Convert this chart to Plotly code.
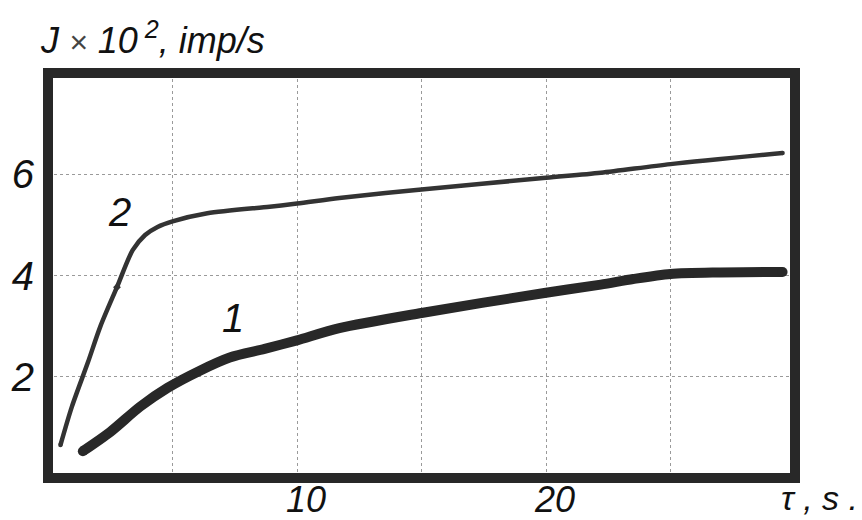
import plotly.graph_objects as go

# Curve 1 (thick)
t1 = [1.4, 2.5, 3.7, 4.8, 6.1, 7.3, 8.7, 10.0, 11.7, 15.0, 20.0, 22.2, 23.5, 25.0, 27.0, 29.5]
j1 = [0.53, 0.91, 1.41, 1.78, 2.12, 2.38, 2.55, 2.72, 2.96, 3.26, 3.66, 3.82, 3.93, 4.03, 4.06, 4.07]

# Curve 2 (thin)
t2 = [0.5, 0.96, 1.6, 2.1, 2.77, 3.4, 3.9, 4.4, 5.0, 6.4, 8.9, 10.0, 11.7, 15.0, 20.0, 22.2, 25.0, 29.5]
j2 = [0.65, 1.41, 2.28, 2.99, 3.77, 4.50, 4.80, 4.96, 5.07, 5.23, 5.36, 5.42, 5.53, 5.70, 5.93, 6.03, 6.20, 6.42]

# small mark on curve 2
mark_t = [2.77]
mark_j = [3.77]

x_grid = [5, 10, 15, 20, 25]
x_text = ["", "10", "", "20", ""]
y_grid = [2, 4, 6]
y_text = ["2", "4", "6"]

curve_labels = ["1", "2"]
label_t = [7.43, 2.89]
label_j = [3.16, 5.25]

INK = "#282828"
FONT = "Liberation Sans, Arial, sans-serif"

fig = go.Figure()
fig.add_trace(go.Scatter(
    x=t2, y=j2, mode="lines", line=dict(color="#333333", width=4.5, shape="spline", smoothing=0.8),
    hoverinfo="skip", showlegend=False))
fig.add_trace(go.Scatter(
    x=[t2[0], t2[-1]], y=[j2[0], j2[-1]], mode="markers",
    marker=dict(color="#333333", size=4.5), hoverinfo="skip", showlegend=False))
fig.add_trace(go.Scatter(
    x=mark_t, y=mark_j, mode="markers",
    marker=dict(color="#333333", size=6, symbol="diamond"), hoverinfo="skip", showlegend=False))
fig.add_trace(go.Scatter(
    x=t1, y=j1, mode="lines", line=dict(color=INK, width=10, shape="spline", smoothing=0.8),
    hoverinfo="skip", showlegend=False))
fig.add_trace(go.Scatter(
    x=[t1[0], t1[-1]], y=[j1[0], j1[-1]], mode="markers",
    marker=dict(color=INK, size=10), hoverinfo="skip", showlegend=False))

for txt, tx, ty in zip(curve_labels, label_t, label_j):
    fig.add_annotation(x=tx, y=ty, text=txt, showarrow=False,
                       font=dict(family=FONT, size=40, color="#111111", style="italic"))

fig.add_annotation(
    xref="paper", yref="paper", x=-0.0134, y=1.086, xanchor="left", yanchor="middle",
    text="J <span style='color:#444444;font-size:32px'>×</span> 10<sup> 2</sup>, imp/s",
    showarrow=False, font=dict(family=FONT, size=36, color="#111111", style="italic"))

fig.add_annotation(
    xref="paper", yref="paper", x=1.0, y=-0.1, xanchor="left", yanchor="bottom", xshift=-16,
    text="τ , s .", showarrow=False,
    font=dict(family=FONT, size=34, color="#111111", style="italic"))

fig.add_shape(type="rect", xref="paper", yref="paper", x0=0, y0=0, x1=1, y1=1,
              line=dict(color=INK, width=10), layer="above")

fig.update_xaxes(range=[0, 30], tickvals=x_grid, ticktext=x_text, showgrid=True,
                 gridcolor="#9a9a9a", gridwidth=1, griddash="dot", zeroline=False,
                 showline=False, ticks="", ticklabelshift=9, ticklabelstandoff=-3,
                 automargin=False,
                 tickfont=dict(family=FONT, size=36, color="#111111", style="italic"))
fig.update_yaxes(range=[0, 8], tickvals=y_grid, ticktext=y_text, showgrid=True,
                 gridcolor="#9a9a9a", gridwidth=1, griddash="dot", zeroline=False,
                 showline=False, ticks="", ticklabelstandoff=13,
                 automargin=False,
                 tickfont=dict(family=FONT, size=40, color="#111111", style="italic"))

fig.update_layout(width=862, height=520, margin=dict(l=48, r=67, t=73, b=42),
                  plot_bgcolor="white", paper_bgcolor="white")

fig.write_html("out.html")
